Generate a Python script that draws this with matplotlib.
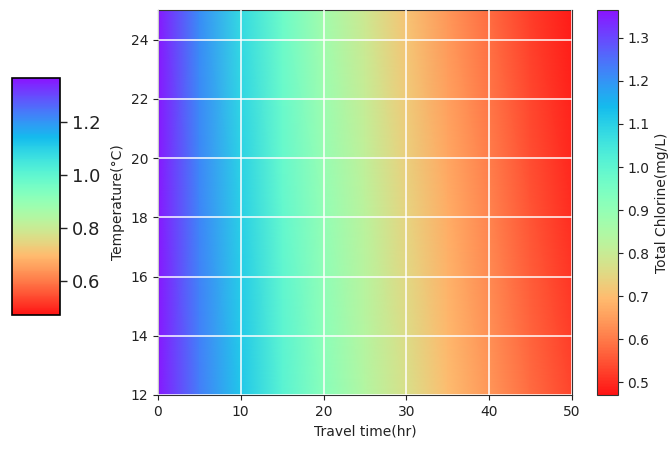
import numpy as np
import matplotlib
matplotlib.use('Agg')
import matplotlib.pyplot as plt
from matplotlib.colors import Normalize, ListedColormap
from matplotlib.cm import ScalarMappable

# travel time (hr) and temperature (°C) grid
travel_time = [0, 5, 10, 15, 20, 25, 30, 35, 40, 45, 50]
temperature = [12, 18.5, 25]

# total chlorine (mg/L), one row per temperature
chlorine_12 = [1.36, 1.23, 1.12, 1.01, 0.92, 0.84, 0.77, 0.70, 0.64, 0.58, 0.53]
chlorine_18 = [1.36, 1.22, 1.10, 0.99, 0.90, 0.82, 0.74, 0.67, 0.61, 0.55, 0.50]
chlorine_25 = [1.36, 1.21, 1.08, 0.97, 0.87, 0.79, 0.71, 0.64, 0.58, 0.52, 0.48]

vmin, vmax = 0.47, 1.365
right_ticks = [0.5, 0.6, 0.7, 0.8, 0.9, 1.0, 1.1, 1.2, 1.3]
left_ticks = [0.6, 0.8, 1.0, 1.2]

# slightly washed-out rainbow, like the scanned figure
base = plt.get_cmap('rainbow_r')(np.linspace(0, 1, 256))
base[:, :3] = base[:, :3] * 0.92 + 0.08
cmap = ListedColormap(base)

fig = plt.figure(figsize=(6.68, 4.51), dpi=100)
ax = fig.add_axes([0.2365, 0.1242, 0.6195, 0.8536])
cax = fig.add_axes([0.894, 0.1242, 0.031, 0.8536])
lcax = fig.add_axes([0.018, 0.3016, 0.072, 0.5255])

norm = Normalize(vmin=vmin, vmax=vmax)
X, Y = np.meshgrid(travel_time, temperature)
Z = np.array([chlorine_12, chlorine_18, chlorine_25])
mesh = ax.pcolormesh(X, Y, Z, cmap=cmap, norm=norm, shading='gouraud')

ax.set_xlim(0, 50)
ax.set_ylim(12, 25)
ax.set_xticks([0, 10, 20, 30, 40, 50])
ax.set_yticks([12, 14, 16, 18, 20, 22, 24])
ax.grid(color='white', linewidth=1.2, alpha=0.9)
ax.set_axisbelow(False)
ax.tick_params(labelsize=10, colors='#222222')
ax.set_xlabel('Travel time(hr)', fontsize=10, color='#222222')
ax.set_ylabel('Temperature(°C)', fontsize=10, color='#222222', labelpad=4)
for s in ax.spines.values():
    s.set_color('#333333')

cb = fig.colorbar(mesh, cax=cax, ticks=right_ticks)
cb.ax.tick_params(labelsize=10, colors='#222222')
cb.set_label('Total Chlorine(mg/L)', fontsize=10, color='#222222')
cb.outline.set_edgecolor('#333333')

# inset colorbar carried over on the left
sm = ScalarMappable(norm=norm, cmap=cmap)
lcb = fig.colorbar(sm, cax=lcax, ticks=left_ticks)
lcb.ax.tick_params(labelsize=13, colors='#222222', length=5, width=1)
lcb.outline.set_edgecolor('black')
lcb.outline.set_linewidth(1.2)

fig.savefig('out.png', dpi=100)
